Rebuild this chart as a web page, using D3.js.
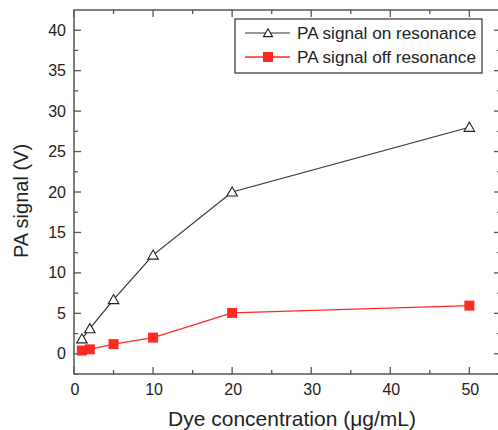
<!DOCTYPE html>
<html lang="en">
<head>
<meta charset="utf-8">
<style>
  body { margin: 0; background: #fff; }
  svg { display: block; font-family: "Liberation Sans", Arial, sans-serif; }
</style>
</head>
<body>
	<script src="https://d3js.org/d3.v7.min.js"></script>
	<script>
		// data
		const concentration = [1, 2, 5, 10, 20, 50];
		const onResonance = [1.85, 3.1, 6.7, 12.2, 20.0, 28.0];
		const offResonance = [0.4, 0.55, 1.2, 2.0, 5.05, 5.95];
		const seriesNames = ["PA signal on resonance", "PA signal off resonance"];
		const xTicks = [0, 10, 20, 30, 40, 50];
		const yTicks = [0, 5, 10, 15, 20, 25, 30, 35, 40];

		const width = 498, height = 430;
		const plotLeft = 74, plotTop = 10, plotRight = 501, plotBottom = 374;

		const svg = d3.select("body")
		  .append("svg")
		  .attr("width", width)
		  .attr("height", height);

		const x = d3.scaleLinear().domain([0, 54]).range([plotLeft, plotRight]);
		const y = d3.scaleLinear().domain([-2.5, 42.5]).range([plotBottom, plotTop]);

		const axisColor = "#555";
		const xMinor = d3.range(5, 54, 10);
		const yMinor = d3.range(-2.5, 42.5, 5);

		// frame
		svg.append("rect")
		  .attr("x", plotLeft).attr("y", plotTop)
		  .attr("width", plotRight - plotLeft).attr("height", plotBottom - plotTop)
		  .attr("fill", "none").attr("stroke", axisColor).attr("stroke-width", 1.5);

		// ticks (inward on all four sides)
		function ticks(g, vals, len, horiz, pos, dir) {
			g.append("g").selectAll("line").data(vals).join("line")
			  .attr("x1", d => horiz ? x(d) : pos)
			  .attr("x2", d => horiz ? x(d) : pos + dir * len)
			  .attr("y1", d => horiz ? pos : y(d))
			  .attr("y2", d => horiz ? pos + dir * len : y(d))
			  .attr("stroke", axisColor).attr("stroke-width", 1.3);
		}
		const tg = svg.append("g");
		ticks(tg, xTicks, 7, true, plotBottom, -1);
		ticks(tg, xMinor, 4, true, plotBottom, -1);
		ticks(tg, xTicks, 7, true, plotTop, 1);
		ticks(tg, xMinor, 4, true, plotTop, 1);
		ticks(tg, yTicks, 7, false, plotLeft, 1);
		ticks(tg, yMinor, 4, false, plotLeft, 1);
		ticks(tg, yTicks, 7, false, plotRight, -1);
		ticks(tg, yMinor, 4, false, plotRight, -1);

		// tick labels
		svg.append("g").selectAll("text").data(xTicks).join("text")
		  .attr("x", d => x(d) + 1).attr("y", plotBottom + 21)
		  .attr("text-anchor", "middle").attr("font-size", 16).attr("fill", "#222")
		  .text(d => d);
		svg.append("g").selectAll("text").data(yTicks).join("text")
		  .attr("x", plotLeft - 8).attr("y", d => y(d)).attr("dy", "0.35em")
		  .attr("text-anchor", "end").attr("font-size", 16).attr("fill", "#222")
		  .text(d => d);

		// axis titles
		svg.append("text")
		  .attr("x", 292).attr("y", 426)
		  .attr("text-anchor", "middle").attr("font-size", 21).attr("fill", "#222")
		  .text("Dye concentration (μg/mL)");
		svg.append("text")
		  .attr("transform", "translate(28,201) rotate(-90)")
		  .attr("text-anchor", "middle").attr("font-size", 20).attr("fill", "#222")
		  .text("PA signal (V)");

		const line = d3.line().x(d => x(d[0])).y(d => y(d[1]));
		const onPts = concentration.map((c, i) => [c, onResonance[i]]);
		const offPts = concentration.map((c, i) => [c, offResonance[i]]);
		const red = "#ff2a1f";
		const tri = d3.symbol().type(d3.symbolTriangle).size(48);

		// off resonance
		svg.append("path").datum(offPts)
		  .attr("d", line).attr("fill", "none").attr("stroke", red).attr("stroke-width", 1.3);
		svg.append("g").selectAll("rect").data(offPts).join("rect")
		  .attr("x", d => x(d[0]) - 5).attr("y", d => y(d[1]) - 5)
		  .attr("width", 10).attr("height", 10).attr("fill", red);

		// on resonance
		svg.append("path").datum(onPts)
		  .attr("d", line).attr("fill", "none").attr("stroke", "#333").attr("stroke-width", 1.2);
		svg.append("g").selectAll("path").data(onPts).join("path")
		  .attr("transform", d => `translate(${x(d[0])},${y(d[1]) + 1})`)
		  .attr("d", tri).attr("fill", "#fff").attr("stroke", "#222").attr("stroke-width", 1.1);

		// legend
		const lg = svg.append("g");
		lg.append("rect")
		  .attr("x", 235).attr("y", 19).attr("width", 247).attr("height", 54)
		  .attr("fill", "#fff").attr("stroke", "#333").attr("stroke-width", 1.2);
		const rows = [33, 57];
		lg.append("line").attr("x1", 245).attr("x2", 290).attr("y1", rows[0]).attr("y2", rows[0])
		  .attr("stroke", "#333").attr("stroke-width", 1.2);
		lg.append("path").attr("transform", `translate(268,${rows[0] + 1})`)
		  .attr("d", d3.symbol().type(d3.symbolTriangle).size(36)).attr("fill", "#fff").attr("stroke", "#222").attr("stroke-width", 1.1);
		lg.append("line").attr("x1", 245).attr("x2", 290).attr("y1", rows[1]).attr("y2", rows[1])
		  .attr("stroke", red).attr("stroke-width", 1.3);
		lg.append("rect").attr("x", 263).attr("y", rows[1] - 5).attr("width", 10).attr("height", 10)
		  .attr("fill", red);
		lg.selectAll("text").data(seriesNames).join("text")
		  .attr("x", 297).attr("y", (d, i) => rows[i]).attr("dy", "0.35em")
		  .attr("font-size", 17.2).attr("fill", "#222")
		  .text(d => d);
	</script>
</body>
</html>
